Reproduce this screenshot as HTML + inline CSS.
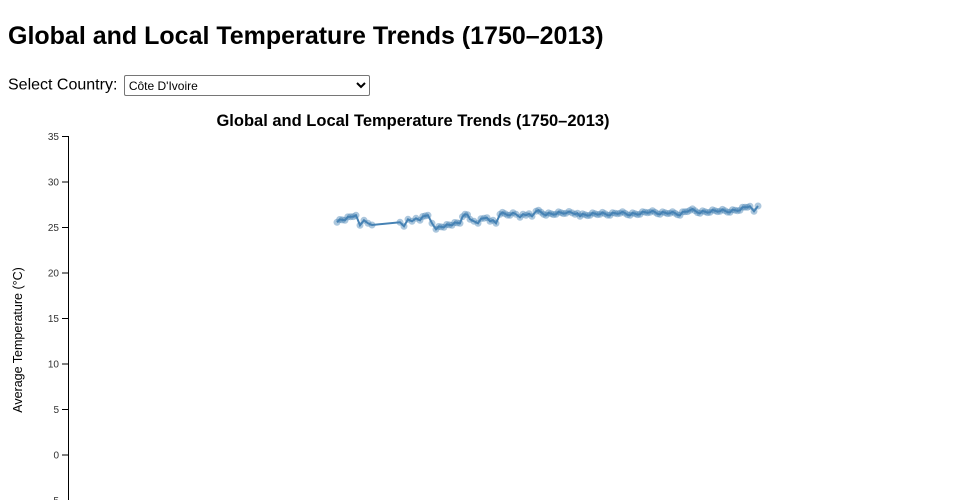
<!DOCTYPE html>
<html><head><meta charset="utf-8"><style>
body{margin:0;width:960px;height:500px;overflow:hidden;font-family:"Liberation Sans","DejaVu Sans",sans-serif;background:#fff;color:#000}
h1{position:absolute;left:8px;top:22px;margin:0;font-size:25px;font-weight:bold}
.sel{position:absolute;left:8px;top:75px;font-size:16px}
select{font-size:12px;width:246px;height:21px;margin-left:2px;vertical-align:middle;font-family:inherit;background:#fff;border:1px solid #767676;border-radius:2px}
svg{position:absolute;left:0;top:0}
</style></head><body>
<h1>Global and Local Temperature Trends (1750–2013)</h1>
<div class="sel">Select Country: <select><option>Côte D'Ivoire</option></select></div>
<svg id="s" width="960" height="500" font-family="Liberation Sans, DejaVu Sans, sans-serif">
<text x="413" y="126" text-anchor="middle" font-size="16.5" font-weight="bold">Global and Local Temperature Trends (1750–2013)</text>
<text transform="translate(22,340) rotate(-90)" text-anchor="middle" font-size="12.5">Average Temperature (°C)</text>
<line x1="68.5" y1="136" x2="68.5" y2="500" stroke="#000"/>
<g id="ax" font-size="10" fill="#333" text-anchor="end"></g>
<g id="ser"></g>
</svg>
<script>
var ax=document.getElementById('ax'),h='';
for(var t=35;t>=-5;t-=5){var y=455-9.1*t;h+='<line x1="62" x2="68" y1="'+y+'" y2="'+y+'" stroke="#000"/><text x="59" y="'+(y+3.5)+'">'+t+'</text>';}
ax.innerHTML=h;
var k=[[337,221],[345,219],[356,214],[360,224],[364,219],[368,222],[372,225],[400,221],[404,225],[408,218],[412,220],[416,217],[420,219],[428,214],[432,222],[436,228],[444,226],[452,224],[460,222],[465,213],[470,218],[474,220],[478,222],[484,217],[490,220],[496,222],[500,213],[510,214],[516,213],[520,216],[526,214],[532,215],[536,210],[546,214],[556,213],[566,212],[575,213],[580,215],[590,214],[600,213],[610,214],[620,212],[630,214],[640,213],[650,211],[660,213],[670,212],[680,214],[690,209],[700,212],[710,211],[720,210],[730,211],[740,209],[750,205],[754,210],[758,206]];
var pts=[];
for(var i=0;i<k.length-1;i++){var a=k[i],b=k[i+1];
 if(a[0]==372){pts.push([a[0],a[1]]);continue;}
 var n=Math.max(1,Math.round((b[0]-a[0])/2.8));
 for(var j=0;j<n;j++){var f=j/n;pts.push([a[0]+(b[0]-a[0])*f,a[1]+(b[1]-a[1])*f+((j%3==0)?1.3:(j%3==1?-0.8:0.2))]);}}
pts.push(k[k.length-1]);
var d='M'+pts.map(function(p){return p[0].toFixed(1)+','+p[1].toFixed(1)}).join('L');
var s='<path d="'+d+'" fill="none" stroke="steelblue" stroke-width="2"/>';
pts.forEach(function(p){s+='<circle cx="'+p[0].toFixed(1)+'" cy="'+p[1].toFixed(1)+'" r="3.5" fill="steelblue" fill-opacity="0.45"/>';});
document.getElementById('ser').innerHTML=s;
</script>
</body></html>
